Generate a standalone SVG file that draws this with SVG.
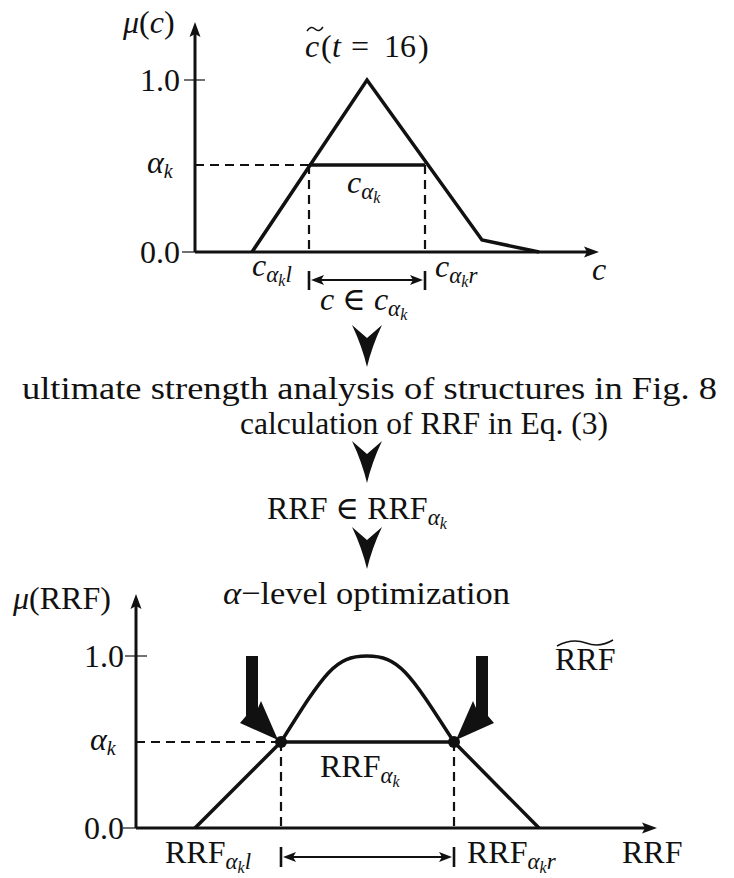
<svg xmlns="http://www.w3.org/2000/svg" width="734" height="878" viewBox="0 0 734 878">
<style>
.t{font-family:"Liberation Serif","DejaVu Serif",serif;font-size:32px;fill:#111}
.i{font-style:italic}
.ax{stroke:#111;stroke-width:3;fill:none}
.cv{stroke:#111;stroke-width:3.5;fill:none;stroke-linejoin:miter}
.da{stroke:#111;stroke-width:2.2;stroke-dasharray:9,6;fill:none}
.tk{stroke:#111;stroke-width:1.2}
.dl{stroke:#111;stroke-width:1.8}
.bar{stroke:#111;stroke-width:2.6}
.f{fill:#111}
</style>
<defs>
<path id="chev" d="M-15,0 L0,13 L15,0 Q5,21 0,42 Q-5,21 -15,0 Z"/>
</defs>

<g id="top-chart">
  <line class="ax" x1="195" y1="252" x2="195" y2="30"/>
  <polygon class="f" points="195,22 200.5,37 195,34 189.5,37"/>
  <line class="ax" x1="195" y1="252" x2="590" y2="252"/>
  <polygon class="f" points="599,252 584,246.5 587,252 584,257.5"/>
  <line class="tk" x1="184" y1="80" x2="205" y2="80"/>
  <line class="tk" x1="182" y1="252" x2="195" y2="252"/>
  <line class="da" x1="195" y1="165" x2="309" y2="165"/>
  <line class="da" x1="309" y1="165" x2="309" y2="252"/>
  <line class="da" x1="425" y1="165" x2="425" y2="252"/>
  <polyline class="cv" points="252,252 367,80 482,240 539,252"/>
  <line class="cv" x1="309" y1="165" x2="425" y2="165"/>
  <line class="dl" x1="315" y1="280" x2="419" y2="280"/>
  <polygon class="f" points="311,280 324,275 321,280 324,285"/>
  <polygon class="f" points="423,280 410,275 413,280 410,285"/>
  <line class="bar" x1="309" y1="271" x2="309" y2="290"/>
  <line class="bar" x1="425" y1="271" x2="425" y2="290"/>
  <text class="t i" x="123" y="33">μ<tspan font-style="normal">(</tspan>c<tspan font-style="normal">)</tspan></text>
  <text class="t" x="180" y="91" text-anchor="end">1.0</text>
  <text class="t" x="180" y="263" text-anchor="end">0.0</text>
  <text class="t i" x="147" y="173">α<tspan font-size="20" dy="5">k</tspan></text>
  <text class="t i" x="305" y="57">c</text>
  <path d="M307,31 Q311,25 315,29 Q319,33 323,27" stroke="#111" stroke-width="1.5" fill="none"/>
  <text class="t" y="57"><tspan x="321">(</tspan><tspan x="332" font-style="italic">t</tspan><tspan x="351">=</tspan><tspan x="384">16</tspan><tspan x="418">)</tspan></text>
  <text class="t i" x="347" y="193">c<tspan font-size="23" dy="6">α</tspan><tspan font-size="16" dy="4">k</tspan></text>
  <text class="t i" x="252" y="276">c<tspan font-size="23" dy="6">α</tspan><tspan font-size="16" dy="4">k</tspan><tspan font-size="23" dy="-4">l</tspan></text>
  <text class="t i" x="435" y="277">c<tspan font-size="23" dy="6">α</tspan><tspan font-size="16" dy="4">k</tspan><tspan font-size="23" dy="-4">r</tspan></text>
  <text class="t i" x="592" y="280">c</text>
  <text class="t i" x="320" y="310">c <tspan font-style="normal">∈</tspan> c<tspan font-size="23" dy="6">α</tspan><tspan font-size="16" dy="4">k</tspan></text>
</g>

<g id="flow">
  <use href="#chev" class="f" transform="translate(367,325)"/>
  <text class="t" x="22" y="399" textLength="695" lengthAdjust="spacingAndGlyphs">ultimate strength analysis of structures in Fig. 8</text>
  <text class="t" x="240" y="434" textLength="368" lengthAdjust="spacingAndGlyphs">calculation of RRF in Eq. (3)</text>
  <use href="#chev" class="f" transform="translate(367,441)"/>
  <text class="t" x="267" y="519">RRF ∈ RRF<tspan font-size="23" font-style="italic" dy="6">α</tspan><tspan font-size="16" font-style="italic" dy="4">k</tspan></text>
  <use href="#chev" class="f" transform="translate(367,527)"/>
  <text class="t" x="223" y="604" textLength="287" lengthAdjust="spacingAndGlyphs"><tspan font-style="italic">α</tspan>−level optimization</text>
</g>

<g id="bottom-chart">
  <line class="ax" x1="136" y1="828" x2="136" y2="602"/>
  <polygon class="f" points="136,594 141.5,609 136,606 130.5,609"/>
  <line class="ax" x1="136" y1="828" x2="648" y2="828"/>
  <polygon class="f" points="657,828 642,822.5 645,828 642,833.5"/>
  <line class="tk" x1="125" y1="656" x2="147" y2="656"/>
  <line class="tk" x1="123" y1="828" x2="136" y2="828"/>
  <line class="da" x1="136" y1="742" x2="281" y2="742"/>
  <line class="da" x1="281" y1="742" x2="281" y2="828"/>
  <line class="da" x1="454" y1="742" x2="454" y2="828"/>
  <polyline class="cv" points="195,828 281,742 454,742 539,828"/>
  <path class="cv" d="M281,742 C325,672 335,656 367,656 C399,656 409,672 454,742"/>
  <circle class="f" cx="281" cy="742" r="6"/>
  <circle class="f" cx="454" cy="742" r="6"/>
  <polygon class="f" points="258,656 246,656 246,716 240,723 278,740 261,701 258,708"/>
  <polygon class="f" points="476,656 488,656 488,716 494,723 456,740 473,701 476,708"/>
  <line class="dl" x1="287" y1="857" x2="448" y2="857"/>
  <polygon class="f" points="283,857 296,852 293,857 296,862"/>
  <polygon class="f" points="452,857 439,852 442,857 439,862"/>
  <line class="bar" x1="281" y1="847" x2="281" y2="867"/>
  <line class="bar" x1="454" y1="847" x2="454" y2="867"/>
  <text class="t" x="13" y="609"><tspan font-style="italic">μ</tspan>(RRF)</text>
  <text class="t" x="124" y="667" text-anchor="end">1.0</text>
  <text class="t" x="124" y="839" text-anchor="end">0.0</text>
  <text class="t i" x="90" y="750">α<tspan font-size="20" dy="5">k</tspan></text>
  <text class="t" x="555" y="670">RRF</text>
  <path d="M557,646 Q572,638 586,643 Q600,648 613,640" stroke="#111" stroke-width="1.5" fill="none"/>
  <text class="t" x="320" y="777">RRF<tspan font-size="23" font-style="italic" dy="6">α</tspan><tspan font-size="16" font-style="italic" dy="4">k</tspan></text>
  <text class="t" x="165" y="863">RRF<tspan font-size="23" font-style="italic" dy="6">α</tspan><tspan font-size="16" font-style="italic" dy="4">k</tspan><tspan font-size="23" font-style="italic" dy="-4">l</tspan></text>
  <text class="t" x="467" y="863">RRF<tspan font-size="23" font-style="italic" dy="6">α</tspan><tspan font-size="16" font-style="italic" dy="4">k</tspan><tspan font-size="23" font-style="italic" dy="-4">r</tspan></text>
  <text class="t" x="622" y="863">RRF</text>
</g>
</svg>
